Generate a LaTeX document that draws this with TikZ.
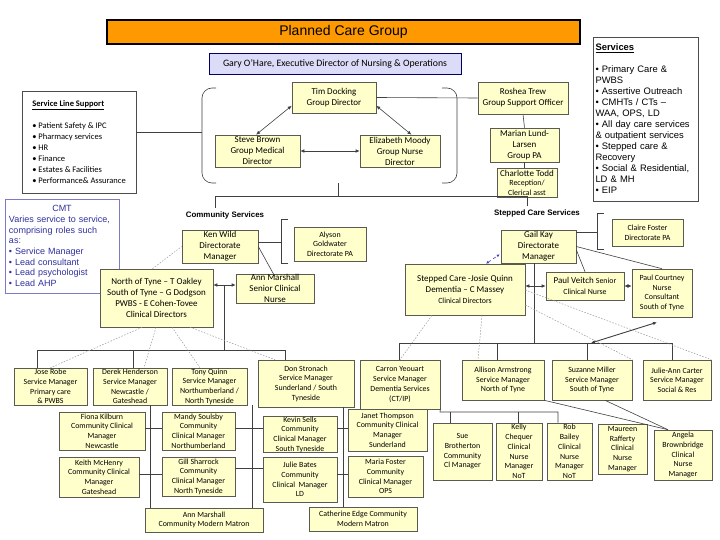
\documentclass[tikz,border=0pt]{standalone}
\usepackage{fontspec}
\setmainfont{Carlito}
\newfontfamily\arialfont{Liberation Sans}
\usetikzlibrary{arrows.meta}

\definecolor{cream}{HTML}{FFFFCC}
\definecolor{boxline}{HTML}{5A5A50}
\definecolor{lavender}{HTML}{DCDCF8}
\definecolor{cmtblue}{HTML}{3030A0}
\definecolor{cmtline}{HTML}{7B7BC8}
\definecolor{orangebar}{HTML}{FF9900}

\newcommand{\bigtxt}{\fontsize{9}{11}\selectfont}
\newcommand{\smtxt}{\fontsize{7.9}{9.7}\selectfont}

\begin{document}
\begin{tikzpicture}[x=1pt, y=-1pt,
  box/.style 2 args={draw=boxline, fill=cream, line width=0.6pt, inner sep=0pt, align=center,
    minimum width=#1, minimum height=#2, font=\bigtxt},
  sbox/.style 2 args={box={#1}{#2}, font=\smtxt},
  link/.style={draw=black!75, line width=0.6pt},
  dbl/.style={link, {Latex[length=4pt,width=3.5pt]}-{Latex[length=4pt,width=3.5pt]}},
  bluedbl/.style={draw=blue!50!gray, line width=0.6pt, dashed, {Latex[length=3pt,width=3pt,open]}-{Latex[length=3pt,width=3pt,open]}},
  dots/.style={draw=gray!80, line width=0.5pt, dash pattern=on 1.5pt off 1.5pt},
  heading/.style={font=\arialfont\bfseries\fontsize{7.9}{9}\selectfont}]
\fill[white] (0,0) rectangle (720,540);
\useasboundingbox (0,0) rectangle (720,540);

\node[draw=black, line width=2pt, fill=orangebar, minimum width=473, minimum height=24,
  font=\arialfont\fontsize{14}{16}\selectfont] (title) at (343.5,32) {Planned Care Group};
\node[draw=black!60!blue, fill=lavender, line width=0.6pt, minimum width=252, minimum height=21,
  font=\fontsize{9.8}{11}\selectfont] (gary) at (335,63.5) {Gary O’Hare, Executive Director of Nursing \& Operations};

\node[draw=black!70, fill=white, line width=0.6pt, minimum width=114, minimum height=102, align=left,
  font=\fontsize{8.5}{11}\selectfont] (sls) at (79,142)
  {\textbf{\underline{Service Line Support}}\\[11pt] • Patient Safety \& IPC\\ • Pharmacy services\\ • HR\\
   • Finance\\ • Estates \& Facilities\\ • Performance\& Assurance};

\node[draw=black!70, fill=white, line width=0.8pt, minimum width=105, minimum height=164, align=left,
  text width=100, inner sep=2.5pt, font=\arialfont\fontsize{9.4}{11}\selectfont] (services) at (645.5,119)
  {\textbf{\underline{Services}}\\[11pt] • Primary Care \&\\ PWBS\\ • Assertive Outreach\\ • CMHTs / CTs –\\
   WAA, OPS, LD\\ • All day care services\\ \& outpatient services\\ • Stepped care \&\\ Recovery\\
   • Social \& Residential,\\ LD \& MH\\ • EIP};

\node[draw=cmtline, fill=white, line width=0.8pt, minimum width=114, minimum height=94, align=left,
  text width=106, inner sep=4pt, text=cmtblue, font=\arialfont\fontsize{9}{10.7}\selectfont] (cmt) at (62,246)
  {\makebox[106pt]{CMT}\\ Varies service to service,\\ comprising roles such\\ as:\\ • Service Manager\\
   • Lead consultant\\ • Lead psychologist\\ • Lead AHP};

\node[box={84}{31}] (tim) at (334,97.5) {Tim Docking\\Group Director};
\node[box={85}{32}] (steve) at (257.5,151) {Steve Brown\\Group Medical\\Director};
\node[box={80}{32}] (eliz) at (400,151) {Elizabeth Moody\\Group Nurse\\Director};
\node[box={90}{32}] (roshea) at (523,98) {Roshea Trew\\Group Support Officer};
\node[box={69}{34}] (marian) at (524.5,145) {Marian Lund-\\Larsen\\Group PA};
\node[box={60}{29}] (charlotte) at (527,182.5) {Charlotte Todd\\[-1.5pt]{\smtxt Reception/}\\[-1.5pt]{\smtxt Clerical asst}};

\node[heading] (commlbl) at (225,215) {Community Services};
\node[heading] (steplbl) at (537,213) {Stepped Care Services};

\node[box={76}{33}] (kenwild) at (220,246.5) {Ken Wild\\Directorate\\Manager};
\node[sbox={72}{34}] (alyson) at (330,244) {Alyson\\Goldwater\\Directorate PA};
\node[box={78}{29}] (annsenior) at (275,288.5) {Ann Marshall\\Senior Clinical\\Nurse};
\node[box={113}{58}] (north) at (156.5,298) {North of Tyne – T Oakley\\South of Tyne – G Dodgson\\PWBS - E Cohen-Tovee\\Clinical Directors};

\node[box={75}{33}] (gailkay) at (538.5,246.5) {Gail Kay\\Directorate\\Manager};
\node[sbox={71}{27}] (claire) at (647.5,232.5) {Claire Foster\\Directorate PA};
\node[box={120}{51}] (josie) at (465,289.5) {Stepped Care -Josie Quinn\\Dementia – C Massey\\{\smtxt Clinical Directors}};
\node[box={78}{28}] (veitch) at (585,286) {Paul Veitch {\smtxt Senior}\\{\smtxt Clinical Nurse}};
\node[sbox={60}{48}] (courtney) at (662,293) {Paul Courtney\\Nurse\\Consultant\\South of Tyne};

\node[sbox={73}{37}] (jose) at (50.5,386.5) {Jose Robe\\Service Manager\\Primary care\\\& PWBS};
\node[sbox={74}{37}] (derek) at (130,386.5) {Derek Henderson\\Service Manager\\Newcastle /\\Gateshead};
\node[sbox={75}{37}] (tony) at (209.5,386.5) {Tony Quinn\\Service Manager\\Northumberland /\\North Tyneside};
\node[sbox={96}{47}] (don) at (306,383.5) {Don Stronach\\Service Manager\\Sunderland / South\\Tyneside};
\node[sbox={80}{49}] (carron) at (400,384.5) {Carron Yeouart\\Service Manager\\Dementia Services\\(CT/IP)};
\node[sbox={82}{40}] (allison) at (503,380) {Allison Armstrong\\Service Manager\\North of Tyne};
\node[sbox={80}{40}] (suzanne) at (592,380) {Suzanne Miller\\Service Manager\\South of Tyne};
\node[sbox={68}{40}] (julieann) at (677,380) {Julie-Ann Carter\\Service Manager\\Social \& Res};

\node[sbox={86}{38}] (fiona) at (102,431) {Fiona Kilburn\\Community Clinical\\Manager\\Newcastle};
\node[sbox={80}{40}] (keith) at (99,477) {Keith McHenry\\Community Clinical\\Manager\\Gateshead};
\node[sbox={73}{38}] (mandy) at (198.5,431) {Mandy Soulsby\\Community\\Clinical Manager\\Northumberland};
\node[sbox={73}{39}] (gill) at (198.5,476.5) {Gill Sharrock\\Community\\Clinical Manager\\North Tyneside};
\node[sbox={74}{33}] (kevin) at (300,434.5) {Kevin Sells\\Community\\Clinical Manager\\South Tyneside};
\node[sbox={74}{45}] (juliebates) at (300,479.5) {Julie Bates\\Community\\Clinical~~Manager\\LD};
\node[sbox={118}{24}] (annmatron) at (204,520) {Ann Marshall\\Community Modern Matron};
\node[sbox={108}{24}] (catherine) at (363,519) {Catherine Edge Community\\Modern Matron};
\node[sbox={79}{42}] (janet) at (387.5,430) {Janet Thompson\\Community Clinical\\Manager\\Sunderland};
\node[sbox={75}{41}] (maria) at (385.5,476.5) {Maria Foster\\Community\\Clinical Manager\\OPS};
\node[sbox={59}{57}] (sue) at (462.5,451.5) {Sue\\Brotherton\\Community\\Cl Manager};
\node[sbox={46}{57}] (kelly) at (519,451.5) {Kelly\\Chequer\\Clinical\\Nurse\\Manager\\NoT};
\node[sbox={45}{57}] (rob) at (569.5,451.5) {Rob\\Bailey\\Clinical\\Nurse\\Manager\\NoT};
\node[sbox={49}{50}] (maureen) at (622.5,449) {Maureen\\Rafferty\\Clinical\\Nurse\\Manager};
\node[sbox={58}{50}] (angela) at (683,455) {Angela\\Brownbridge\\Clinical\\Nurse\\Manager};

\draw[link, rounded corners=10pt] (216,88) -- (202,88) -- (202,183) -- (216,183);
\draw[link, rounded corners=10pt] (442,88) -- (457,88) -- (457,183) -- (442,183);
\draw[link] (288,219) -- (281,219) -- (281,263) -- (288,263);
\draw[link] (604,213) -- (597,213) -- (597,249) -- (604,249);
\coordinate (lbrk) at (202,132);
\coordinate (abrk) at (281,242);
\coordinate (cbrk) at (597,232);
\coordinate (brk) at (338,183);
\coordinate (tbus) at (338,196);
\coordinate (tbusl) at (215,196);
\coordinate (tbusr) at (527,196);

\draw[link] (sls.east |- lbrk) -- (lbrk);
\draw[link] (tim.east) -- (roshea.west);
\draw[link] (roshea.south) -- (marian.north);
\draw[link] (marian.south) -- (marian.south |- charlotte.north);
\draw[dbl] (tim.191) -- (steve.95);
\draw[dbl] (tim.349) -- (eliz.55);
\draw[dbl] (steve.east) -- (eliz.west);
\draw[link] (brk) -- (tbus);
\draw[link] (commlbl.north -| tbusl) -- (tbusl) -- (tbusr) -- (steplbl.north -| tbusr);

\draw[link] (kenwild.east |- abrk) -- (abrk);
\draw[link] (kenwild.east) -- ([yshift=-3pt]annsenior.north);
\coordinate (narrow) at (224,285);
\coordinate (cbusl) at (37,350);
\coordinate (cbusr) at (285,350);
\draw[dbl] (north.east |- narrow) -- (annsenior.west |- narrow);
\draw[link] (narrow) -- (narrow |- cbusl);
\draw[link] (cbusl) -- (cbusr);
\draw[link] (cbusl) -- (cbusl |- jose.north);
\draw[link] (133,0 |- cbusl) -- (133,0 |- derek.north);
\draw[link] (cbusr) -- (cbusr |- don.north);
\draw[dots] ([xshift=-4pt]north.north) -- (kenwild.west);
\draw[dots] (142,0 |- north.south) -- (jose.north);
\draw[dots] (156,0 |- north.south) -- (144,0 |- derek.north);
\draw[dots] (172,0 |- north.south) -- (200,0 |- tony.north);
\draw[dots] (190,0 |- north.south) -- (275,0 |- don.north);

\draw[link] (150,0 |- derek.south) -- (150,0 |- annmatron.north);
\draw[link] (252,0 |- tony.south) -- (252,0 |- annmatron.north);
\draw[link] (343,0 |- don.south) -- (343,0 |- catherine.north);
\draw[link] (fiona.east |- 0,428) -- (mandy.west |- 0,428);
\draw[link] (keith.east |- 0,474) -- (gill.west |- 0,474);
\draw[link] (mandy.east |- 0,428) -- (kevin.west |- 0,428);
\draw[link] (gill.east |- 0,468) -- (juliebates.west |- 0,468);
\draw[link] (kevin.east |- 0,428) -- (janet.west |- 0,428);
\draw[link] (juliebates.east |- 0,474) -- (maria.west |- 0,474);

\draw[link] (gailkay.east |- cbrk) -- (cbrk);
\draw[link] (gailkay.355) -- (veitch.north);
\draw[link] (gailkay.east) -- (courtney.north);
\draw[dbl] (josie.east |- 0,286) -- (veitch.west |- 0,286);
\draw[dbl] (veitch.east) -- (courtney.west |- veitch.east);
\draw[bluedbl] ([xshift=21pt]josie.north) -- ([shift={(-1pt,9pt)}]gailkay.south west);
\coordinate (sbusl) at (399,343);
\coordinate (sbusr) at (672,343);
\coordinate (sarrow) at (591,343);
\draw[link] (534,0 |- gailkay.south) -- (534,0 |- sbusl);
\draw[link] (sbusl) -- (sbusr);
\draw[link] (sbusl) -- (sbusl |- carron.north);
\draw[link] (497,0 |- sbusl) -- (497,0 |- allison.north);
\draw[link] (587,0 |- sbusl) -- (587,0 |- suzanne.north);
\draw[link] (sbusr) -- (sbusr |- julieann.north);
\draw[dbl, line width=0.9pt] ([shift={(-5pt,-5pt)}]courtney.south) -- (sarrow);
\draw[dots] (432,0 |- josie.south) -- (carron.north);
\draw[dots] (482,0 |- josie.south) -- (478,0 |- allison.north);
\draw[dots] (josie.east |- 0,305) -- (suzanne.north east);
\draw[dots] (josie.east |- 0,290) -- (julieann.north east);

\coordinate (cyl) at (440,412);
\coordinate (cyr) at (558,412);
\draw[link] (carron.south east) -- (cyl) -- (cyr) -- (cyr |- rob.north);
\draw[link] (450,0 |- cyl) -- (450,0 |- sue.north);
\draw[link] (518,0 |- cyl) -- (518,0 |- kelly.north);
\draw[link] (allison.south east) -- ([xshift=-15pt]angela.north);
\draw[link] ([xshift=13pt]suzanne.south) -- ([xshift=-15pt]angela.north);
\end{tikzpicture}
\end{document}
